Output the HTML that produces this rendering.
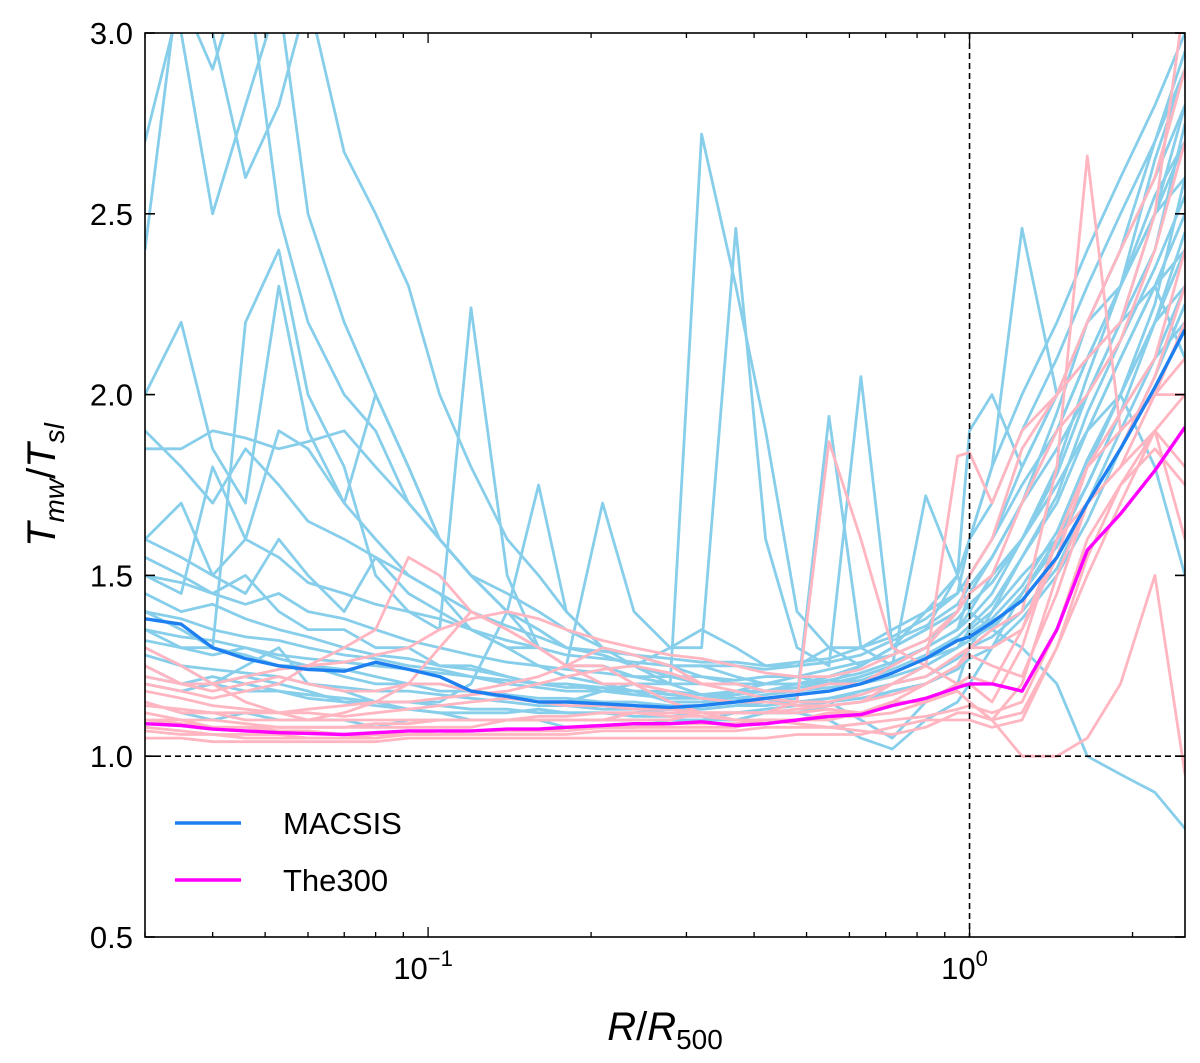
<!DOCTYPE html>
<html><head><meta charset="utf-8">
<style>
html,body{margin:0;padding:0;background:#fff;}
svg{display:block;font-family:"Liberation Sans","DejaVu Sans",sans-serif;}
</style></head>
<body>
<svg id="chart" width="1200" height="1063" viewBox="0 0 1200 1063" xmlns="http://www.w3.org/2000/svg">
<defs><clipPath id="plotclip"><rect x="145" y="33" width="1040" height="904"/></clipPath></defs>
<rect x="0" y="0" width="1200" height="1063" fill="#fff"/>
<g id="series" clip-path="url(#plotclip)"></g>
<g id="axes"></g>
</svg>
<script>
const radii=[0.03,0.035,0.04,0.046,0.053,0.06,0.07,0.08,0.092,0.105,0.12,0.14,0.16,0.18,0.21,0.24,0.28,0.32,0.37,0.42,0.48,0.55,0.63,0.72,0.83,0.95,1.0,1.1,1.25,1.45,1.65,1.9,2.2,2.5];
const macsisClusters=[
[2.7,3.1,2.9,3.2,2.5,2.2,2.0,1.9,1.7,1.6,1.5,1.4,1.35,1.3,1.28,1.25,1.22,1.2,1.2,1.18,1.18,1.2,1.22,1.25,1.3,1.4,1.45,1.55,1.7,1.9,2.1,2.3,2.5,2.7],
[1.5,1.45,1.8,1.6,1.9,1.85,1.7,1.6,1.5,1.45,1.35,1.3,1.25,1.22,1.2,1.18,1.17,1.16,1.17,1.18,1.2,1.22,1.25,1.3,1.35,1.4,1.45,1.5,1.6,1.75,1.9,2.1,2.3,2.4],
[1.4,1.35,1.3,2.2,2.4,2.0,1.8,1.5,1.4,1.35,2.24,1.5,1.3,1.25,1.2,1.2,1.15,1.15,1.18,1.2,1.22,1.2,1.25,1.3,1.4,1.45,1.6,1.8,2.0,2.2,2.4,2.6,2.8,3.0],
[1.3,1.25,1.2,1.25,1.3,1.2,1.18,1.15,1.15,1.15,1.2,1.4,1.75,1.4,1.3,1.25,1.2,2.72,2.3,1.9,1.4,1.3,1.25,1.3,1.35,1.5,1.9,2.0,1.8,2.0,2.2,2.3,2.5,2.6],
[1.85,1.85,1.9,1.88,1.85,1.87,1.9,1.8,1.7,1.6,1.5,1.4,1.3,1.25,1.7,1.4,1.3,1.3,2.46,1.6,1.3,1.25,2.05,1.3,1.4,1.5,1.6,1.8,2.46,2.0,2.1,2.2,2.3,2.1],
[1.2,1.18,1.2,1.22,1.2,1.18,1.15,1.15,1.13,1.12,1.12,1.12,1.13,1.12,1.12,1.12,1.13,1.13,1.14,1.15,1.15,1.16,1.18,1.2,1.25,1.3,1.35,1.4,1.5,1.6,1.8,2.0,2.2,2.3],
[2.4,3.2,3.0,2.6,2.8,3.1,2.67,2.5,2.3,2.0,1.8,1.6,1.5,1.4,1.3,1.28,1.25,1.22,1.2,1.2,1.2,1.22,1.25,1.3,1.35,1.4,1.5,1.6,1.8,2.0,2.2,2.4,2.6,2.8],
[1.55,1.5,1.45,1.5,1.4,1.35,1.35,1.3,1.3,1.25,1.25,1.22,1.2,1.2,1.18,1.18,1.15,1.15,1.15,1.15,1.16,1.94,1.3,1.25,1.72,1.5,1.4,1.35,1.3,1.2,1.0,0.95,0.9,0.8],
[1.15,1.12,1.1,1.12,1.1,1.1,1.1,1.08,1.1,1.1,1.1,1.1,1.1,1.1,1.1,1.1,1.1,1.1,1.12,1.12,1.12,1.14,1.15,1.18,1.2,1.25,1.3,1.35,1.45,1.6,1.75,1.95,2.1,2.2],
[2.0,2.2,1.85,1.7,2.3,1.9,1.7,2.0,1.8,1.6,1.5,1.45,1.4,1.35,1.3,1.28,1.25,1.25,1.22,1.2,1.2,1.2,1.22,1.25,1.3,1.35,1.4,1.5,1.6,1.75,1.9,2.0,1.8,1.5],
[3.2,3.0,2.5,2.8,3.1,2.5,2.2,2.0,1.8,1.6,1.5,1.4,1.35,1.3,1.28,1.25,1.3,1.35,1.3,1.25,1.25,1.3,1.3,1.35,1.4,1.45,1.6,1.7,1.9,2.1,2.3,2.5,2.7,2.9],
[1.35,1.3,1.3,1.28,1.25,1.25,1.22,1.2,1.2,1.18,1.18,1.16,1.15,1.15,1.18,1.2,1.2,1.17,1.16,1.15,1.14,1.15,1.1,1.05,1.15,1.2,1.3,1.4,1.55,1.7,1.9,2.1,2.3,2.5],
[1.25,1.2,1.22,1.2,1.18,1.16,1.15,1.14,1.13,1.12,1.1,1.1,1.1,1.08,1.08,1.08,1.1,1.1,1.1,1.12,1.12,1.1,1.05,1.02,1.1,1.15,1.2,1.3,1.45,1.6,1.8,2.0,2.2,2.4],
[1.6,1.7,1.5,1.45,1.6,1.5,1.4,1.55,1.45,1.4,1.35,1.3,1.3,1.25,1.25,1.22,1.2,1.2,1.2,1.2,1.22,1.2,1.22,1.25,1.3,1.35,1.45,1.55,1.7,1.85,2.0,2.2,2.5,2.8],
[1.45,1.4,1.42,1.38,1.35,1.33,1.3,1.28,1.27,1.25,1.24,1.22,1.2,1.2,1.19,1.18,1.18,1.17,1.17,1.18,1.19,1.2,1.21,1.24,1.28,1.33,1.36,1.42,1.55,1.72,1.95,2.15,2.35,2.55],
[1.32,1.3,1.28,1.3,1.27,1.25,1.24,1.22,1.2,1.2,1.18,1.17,1.16,1.16,1.15,1.15,1.14,1.14,1.15,1.16,1.17,1.18,1.2,1.23,1.27,1.3,1.34,1.38,1.47,1.62,1.82,2.0,2.25,2.6],
[1.5,1.48,1.45,1.42,1.45,1.4,1.38,1.35,1.32,1.3,1.28,1.26,1.25,1.24,1.23,1.22,1.22,1.22,1.21,1.22,1.22,1.24,1.26,1.28,1.32,1.38,1.42,1.48,1.6,1.8,2.05,2.3,2.65,2.9],
[1.28,1.25,1.24,1.23,1.22,1.2,1.19,1.18,1.18,1.17,1.16,1.15,1.14,1.14,1.13,1.13,1.13,1.13,1.14,1.14,1.15,1.16,1.17,1.2,1.22,1.27,1.3,1.33,1.4,1.52,1.7,1.9,2.1,2.3],
[1.6,1.55,1.5,1.6,1.55,1.48,1.45,1.42,1.4,1.38,1.35,1.32,1.3,1.28,1.27,1.26,1.25,1.25,1.25,1.24,1.25,1.26,1.28,1.32,1.36,1.42,1.47,1.55,1.7,1.95,2.2,2.4,2.7,2.95],
[1.4,1.38,1.35,1.33,1.32,1.3,1.28,1.27,1.25,1.24,1.22,1.21,1.2,1.19,1.19,1.18,1.17,1.17,1.18,1.18,1.2,1.21,1.23,1.26,1.3,1.35,1.38,1.45,1.6,1.78,2.0,2.2,2.4,2.75],
[1.22,1.2,1.2,1.18,1.18,1.17,1.16,1.15,1.15,1.14,1.13,1.13,1.12,1.12,1.12,1.11,1.11,1.12,1.12,1.13,1.14,1.15,1.16,1.18,1.2,1.24,1.27,1.3,1.38,1.5,1.65,1.85,2.05,2.25],
[1.9,1.8,1.7,1.85,1.75,1.65,1.6,1.55,1.5,1.45,1.4,1.36,1.33,1.3,1.29,1.28,1.27,1.26,1.26,1.25,1.26,1.27,1.3,1.33,1.38,1.45,1.5,1.6,1.75,1.9,2.1,2.3,2.55,2.7],
[1.35,1.33,1.32,1.3,1.28,1.27,1.26,1.25,1.24,1.23,1.22,1.2,1.19,1.18,1.18,1.17,1.16,1.16,1.16,1.17,1.18,1.19,1.2,1.22,1.25,1.3,1.32,1.36,1.45,1.58,1.75,1.95,2.2,2.45]
];
const the300Clusters=[
[1.3,1.25,1.2,1.15,1.12,1.1,1.1,1.1,1.1,1.1,1.1,1.1,1.1,1.1,1.1,1.1,1.1,1.12,1.12,1.12,1.15,1.87,1.6,1.3,1.25,1.2,1.22,1.2,1.35,1.6,1.8,1.9,2.0,2.1],
[1.1,1.1,1.08,1.08,1.07,1.07,1.06,1.06,1.06,1.07,1.07,1.07,1.07,1.08,1.08,1.08,1.08,1.08,1.08,1.1,1.1,1.12,1.12,1.15,1.15,1.18,1.15,1.1,1.2,1.5,1.7,1.8,2.0,2.2],
[1.2,1.18,1.16,1.18,1.2,1.25,1.3,1.35,1.55,1.5,1.4,1.35,1.3,1.25,1.25,1.2,1.18,1.16,1.15,1.15,1.14,1.14,1.15,1.2,1.25,1.83,1.84,1.7,1.9,2.0,2.2,2.4,2.6,2.9],
[1.05,1.05,1.04,1.04,1.04,1.04,1.04,1.04,1.05,1.05,1.05,1.05,1.05,1.05,1.05,1.05,1.05,1.05,1.05,1.05,1.06,1.06,1.06,1.08,1.1,1.1,1.1,1.08,1.1,1.3,1.5,1.7,1.9,1.6],
[1.15,1.12,1.12,1.1,1.1,1.1,1.12,1.15,1.2,1.3,1.4,1.35,1.3,1.25,1.2,1.2,1.15,1.12,1.1,1.1,1.1,1.1,1.12,1.15,1.2,1.25,1.3,1.35,1.4,1.8,2.66,1.9,2.0,2.0],
[1.08,1.07,1.06,1.06,1.06,1.05,1.05,1.06,1.06,1.06,1.07,1.07,1.07,1.07,1.08,1.08,1.09,1.09,1.09,1.1,1.1,1.11,1.11,1.12,1.15,1.18,1.15,1.1,1.0,1.0,1.05,1.2,1.5,0.95],
[1.25,1.2,1.18,1.2,1.22,1.2,1.18,1.18,1.2,1.2,1.18,1.2,1.22,1.25,1.3,1.28,1.25,1.2,1.2,1.18,1.18,1.2,1.2,1.25,1.3,1.4,1.5,1.6,1.85,2.0,2.1,2.2,2.5,3.1],
[1.12,1.1,1.1,1.09,1.08,1.08,1.08,1.08,1.08,1.08,1.08,1.1,1.1,1.1,1.1,1.12,1.12,1.12,1.12,1.12,1.12,1.13,1.12,1.15,1.15,1.2,1.2,1.15,1.3,1.6,1.7,1.8,1.9,2.0],
[1.18,1.16,1.14,1.13,1.12,1.12,1.11,1.12,1.13,1.14,1.15,1.16,1.15,1.14,1.14,1.13,1.13,1.12,1.12,1.12,1.13,1.14,1.15,1.17,1.2,1.25,1.28,1.25,1.22,1.45,1.7,1.85,2.05,2.3],
[1.07,1.06,1.06,1.05,1.05,1.05,1.05,1.05,1.06,1.06,1.06,1.06,1.06,1.06,1.07,1.07,1.07,1.07,1.07,1.08,1.08,1.08,1.09,1.1,1.11,1.13,1.14,1.12,1.15,1.35,1.6,1.75,1.85,1.75],
[1.22,1.2,1.2,1.22,1.24,1.25,1.26,1.28,1.3,1.35,1.38,1.4,1.38,1.35,1.32,1.3,1.28,1.27,1.25,1.23,1.22,1.22,1.24,1.28,1.32,1.4,1.45,1.5,1.7,1.9,2.0,2.15,2.4,2.7],
[1.1,1.09,1.08,1.08,1.08,1.08,1.08,1.09,1.09,1.1,1.1,1.1,1.11,1.11,1.12,1.12,1.11,1.11,1.1,1.1,1.09,1.08,1.07,1.06,1.08,1.12,1.12,1.1,1.12,1.3,1.55,1.75,1.9,1.8],
[1.14,1.13,1.12,1.12,1.12,1.13,1.14,1.15,1.15,1.16,1.17,1.18,1.2,1.22,1.24,1.25,1.23,1.2,1.18,1.16,1.15,1.15,1.17,1.2,1.22,1.28,1.3,1.3,1.35,1.55,1.8,1.95,2.1,2.4]
];
const macsisMedian=[1.38,1.365,1.3,1.27,1.25,1.24,1.235,1.26,1.24,1.22,1.18,1.165,1.15,1.15,1.145,1.14,1.135,1.14,1.15,1.16,1.17,1.18,1.2,1.23,1.27,1.32,1.33,1.37,1.43,1.55,1.7,1.85,2.02,2.18];
const the300Median=[1.09,1.085,1.075,1.07,1.065,1.063,1.06,1.065,1.07,1.07,1.07,1.075,1.075,1.08,1.085,1.09,1.09,1.095,1.085,1.09,1.1,1.11,1.115,1.14,1.16,1.19,1.2,1.2,1.18,1.35,1.57,1.67,1.79,1.91];
const yTicks=[0.5,1.0,1.5,2.0,2.5,3.0];
const yTickLabels=["0.5","1.0","1.5","2.0","2.5","3.0"];
const xMajor=[0.1,1];
const xMajorExp=["−1","0"];

const NS="http://www.w3.org/2000/svg";
const L=145,R=1185,T=33,B=937;
const xmin=Math.log10(0.03),xmax=Math.log10(2.5);
function xs(v){return L+(Math.log10(v)-xmin)/(xmax-xmin)*(R-L);}
function ys(v){return B-(v-0.5)/(3.0-0.5)*(B-T);}
function mk(tag,attrs,parent){const e=document.createElementNS(NS,tag);for(const k in attrs)e.setAttribute(k,attrs[k]);parent.appendChild(e);return e;}
const sg=document.getElementById('series'),ax=document.getElementById('axes');
function pathFor(vals){return vals.map((v,i)=>(i?'L':'M')+xs(radii[i]).toFixed(1)+','+ys(v).toFixed(1)).join(' ');}

macsisClusters.forEach((s,i)=>{
  const p=mk('path',{d:pathFor(s),fill:'none',stroke:'#87ceeb','stroke-width':2.8,'stroke-linejoin':'round'},sg);
  
  
});
the300Clusters.forEach((s,i)=>{
  const p=mk('path',{d:pathFor(s),fill:'none',stroke:'#ffb6c1','stroke-width':2.8,'stroke-linejoin':'round'},sg);
  
  
});
let d1=mk('line',{x1:L,x2:R,y1:ys(1.0),y2:ys(1.0),stroke:'#000','stroke-width':1.6,'stroke-dasharray':'6,4'},sg);


let d2=mk('line',{x1:xs(1),x2:xs(1),y1:T,y2:B,stroke:'#000','stroke-width':1.6,'stroke-dasharray':'6,4'},sg);


let m1=mk('path',{d:pathFor(macsisMedian),fill:'none',stroke:'#1e7ff0','stroke-width':3.4,'stroke-linejoin':'round'},sg);


let m2=mk('path',{d:pathFor(the300Median),fill:'none',stroke:'#ff00ff','stroke-width':3.4,'stroke-linejoin':'round'},sg);



let fr=mk('rect',{x:L,y:T,width:R-L,height:B-T,fill:'none',stroke:'#000','stroke-width':1.6},ax);


yTicks.forEach((v,i)=>{
  const y=ys(v);
  mk('line',{x1:L,x2:L+10,y1:y,y2:y,stroke:'#000','stroke-width':1.6},ax);
  mk('line',{x1:R,x2:R-10,y1:y,y2:y,stroke:'#000','stroke-width':1.6},ax);
  const t=mk('text',{x:L-12,y:y+11,'text-anchor':'end','font-size':31,fill:'#000'},ax);
  t.textContent=yTickLabels[i];
  
  
});
for(let dec=-2;dec<=0;dec++){for(let k=1;k<=9;k++){const v=k*Math.pow(10,dec);if(v<0.03||v>2.5)continue;const x=xs(v);const len=(k===1)?10:5;
  mk('line',{x1:x,x2:x,y1:B,y2:B-len,stroke:'#000','stroke-width':1.3},ax);
  mk('line',{x1:x,x2:x,y1:T,y2:T+len,stroke:'#000','stroke-width':1.3},ax);}}
xMajor.forEach((v,i)=>{
  const x=xs(v);
  const t=mk('text',{x:x-5,y:B+42,'text-anchor':'middle','font-size':31,fill:'#000'},ax);
  
  
  t.textContent='10';
  const s=mk('tspan',{dy:-13,'font-size':22},t);s.textContent=xMajorExp[i];
});
const xt=mk('text',{x:665,y:1040,'text-anchor':'middle','font-size':40,fill:'#000'},ax);


xt.innerHTML='<tspan font-style="italic">R</tspan>/<tspan font-style="italic">R</tspan><tspan font-size="28" dy="9">500</tspan>';
const yt=mk('text',{x:0,y:0,'text-anchor':'middle','font-size':40,fill:'#000',transform:'translate(55,485) rotate(-90)'},ax);


yt.innerHTML='<tspan font-style="italic">T</tspan><tspan font-size="28" dy="9" font-style="italic">mw</tspan><tspan dy="-9">/</tspan><tspan font-style="italic">T</tspan><tspan font-size="28" dy="9" font-style="italic">sl</tspan>';
const lg=mk('g',{},ax);


[['MACSIS','#1e7ff0',823],['The300','#ff00ff',880]].forEach(e=>{
  const g=mk('g',{},lg);
  
  
  mk('line',{x1:175,x2:241,y1:e[2],y2:e[2],stroke:e[1],'stroke-width':3.4},g);
  const t=mk('text',{x:283,y:e[2]+11,'font-size':31,fill:'#000'},g);t.textContent=e[0];
});
</script>
</body></html>
